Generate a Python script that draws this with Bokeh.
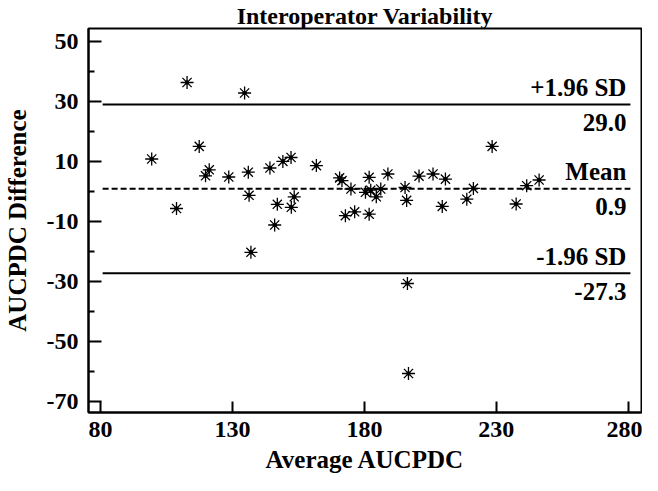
from bokeh.plotting import figure
from bokeh.models import Range1d, FixedTicker, Label
from bokeh.embed import file_html
from bokeh.resources import INLINE

# ---- data ----
avg_aucpdc = [99.4, 112.8, 108.8, 117.4, 119.8, 121.2, 128.6, 134.6, 136.0, 136.3,
              137.0, 144.2, 149.1, 152.2, 147.0, 146.0, 153.4, 152.3, 161.8, 170.6,
              171.5, 174.9, 172.8, 176.3, 181.8, 180.4, 182.4, 186.2, 184.5, 181.8,
              188.9, 195.4, 196.0, 200.7, 206.0, 210.7, 209.5, 228.4, 221.3, 218.8,
              241.5, 246.2, 237.5, 196.3, 196.7]
diff_aucpdc = [10.8, 36.3, -5.7, 15.0, 5.2, 7.2, 4.8, 32.8, 6.4, -1.3,
               -20.3, 7.8, 10.0, 11.3, -4.3, -11.2, -1.8, -5.3, 8.6, 4.5,
               3.6, 0.8, -8.1, -6.8, 4.7, -0.3, 0.4, 0.8, -1.8, -7.6,
               5.8, 1.3, -3.0, 5.1, 5.8, 4.1, -5.0, 15.0, 1.0, -2.6,
               1.9, 3.8, -4.2, -30.7, -60.7]

mean_diff = 0.9
upper_loa = 29.0
lower_loa = -27.3
ref_labels_above = ["+1.96 SD", "Mean", "-1.96 SD"]
ref_labels_below = ["29.0", "0.9", "-27.3"]
line_start, line_end = 80.8, 280.8

x_ticks = [80, 130, 180, 230, 280]
y_ticks = [50, 30, 10, -10, -30, -50, -70]
y_minor = [40, 20, 0, -20, -40, -60]

FONT = "Liberation Serif"
X0, X1 = 75.45, 285.0
Y0, Y1 = -73.7, 54.3

p = figure(width=642, height=475, output_backend="svg", toolbar_location=None,
           x_range=Range1d(X0, X1), y_range=Range1d(Y0, Y1),
           title="Interoperator Variability",
           x_axis_label="Average AUCPDC", y_axis_label="AUCPDC Difference")

p.min_border_left = 84
p.min_border_right = 1
p.min_border_top = 0
p.min_border_bottom = 0
p.background_fill_color = "white"
p.border_fill_color = "white"
p.outline_line_color = "black"
p.outline_line_width = 2
p.xgrid.visible = False
p.ygrid.visible = False

p.title.text_font = FONT
p.title.text_font_size = "24px"
p.title.text_font_style = "bold"
p.title.text_color = "black"
p.title.align = "center"
p.title.standoff = 0

for ax in (p.xaxis[0], p.yaxis[0]):
    ax.axis_line_width = 2
    ax.major_tick_line_width = 2
    ax.minor_tick_line_width = 2
    ax.major_tick_out = 0
    ax.minor_tick_out = 0
    ax.major_label_text_font = FONT
    ax.major_label_text_font_size = "24px"
    ax.major_label_text_font_style = "bold"
    ax.major_label_text_color = "black"
    ax.axis_label_text_font = FONT
    ax.axis_label_text_font_size = "25px"
    ax.axis_label_text_font_style = "bold"
    ax.axis_label_text_color = "black"

p.xaxis.ticker = FixedTicker(ticks=x_ticks)
p.xaxis.major_tick_in = 11
p.xaxis.minor_tick_in = 0
p.xaxis.major_label_standoff = 9
p.xaxis.axis_label_standoff = 6

p.yaxis.ticker = FixedTicker(ticks=y_ticks, minor_ticks=y_minor)
p.yaxis.major_label_overrides = {t: str(t) for t in y_ticks}
p.yaxis.major_tick_in = 13
p.yaxis.minor_tick_in = 6
p.yaxis.major_label_standoff = 10
p.yaxis.axis_label_standoff = 13

# reference lines
p.line([line_start, line_end], [upper_loa, upper_loa], line_color="black", line_width=2)
p.line([line_start, line_end], [lower_loa, lower_loa], line_color="black", line_width=2)
p.line([line_start, line_end], [mean_diff, mean_diff], line_color="black", line_width=2,
       line_dash="6 3")

# points
p.scatter(avg_aucpdc, diff_aucpdc, marker="asterisk", size=13, line_color="black",
          line_width=1.3)
p.scatter(avg_aucpdc, diff_aucpdc, marker="circle", size=3.5, fill_color="black",
          line_color="black")

for val, above, below in zip([upper_loa, mean_diff, lower_loa], ref_labels_above, ref_labels_below):
    p.add_layout(Label(x=line_end, y=val, text=above, text_align="right",
                       text_baseline="alphabetic", x_offset=-4, y_offset=17,
                       text_font=FONT, text_font_size="25px", text_font_style="bold",
                       text_color="black"))
    p.add_layout(Label(x=line_end, y=val, text=below, text_align="right",
                       text_baseline="alphabetic", x_offset=-4, y_offset=-18,
                       text_font=FONT, text_font_size="25px", text_font_style="bold",
                       text_color="black"))

open("out.html", "w").write(file_html(p, INLINE))
